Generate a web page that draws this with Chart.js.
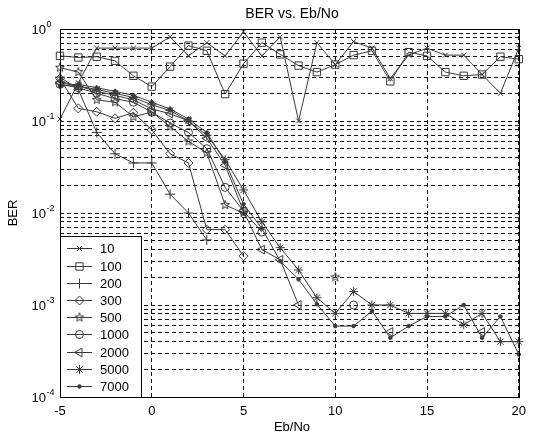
<!DOCTYPE html>
<html><head><meta charset="utf-8">
<script src="https://cdn.jsdelivr.net/npm/chart.js@4.4.1/dist/chart.umd.min.js"></script>
<style>html,body{margin:0;padding:0;background:#fff;} #wrap{width:533px;height:441px;}</style>
</head><body><div id="wrap"><canvas id="c" width="533" height="441"></canvas></div>
<script>
// ---- data ----
const snr = [-5,-4,-3,-2,-1,0,1,2,3,4,5,6,7,8,9,10,11,12,13,14,15,16,17,18,19,20];
const seriesNames = ['10','100','200','300','500','1000','2000','5000','7000'];
const ber10   = [0.105,0.26,0.62,0.62,0.62,0.62,0.82,0.51,0.71,0.51,0.93,0.51,0.82,0.10,0.71,0.41,0.73,0.62,0.29,0.52,0.62,0.52,0.52,0.32,0.20,0.62];
const ber100  = [0.51,0.49,0.50,0.45,0.31,0.236,0.39,0.66,0.58,0.196,0.42,0.71,0.53,0.40,0.34,0.41,0.52,0.58,0.27,0.56,0.51,0.34,0.31,0.32,0.50,0.47];
const ber200  = [0.30,0.22,0.075,0.044,0.035,0.035,0.016,0.010,0.0051,null,null,null,null,null,null,null,null,null,null,null,null,null,null,null,null,null];
const ber300  = [0.29,0.137,0.126,0.107,0.123,0.08,0.044,0.035,0.0066,0.0066,0.0034,null,null,null,null,null,null,null,null,null,null,null,null,null,null,null];
const ber500  = [0.38,0.34,0.17,0.16,0.111,0.125,0.087,0.06,0.045,0.0122,0.010,null,null,null,null,0.002,null,null,null,null,null,null,null,null,null,null];
const ber1000 = [0.25,0.23,0.20,0.175,0.16,0.125,0.095,0.075,0.05,0.019,0.0105,0.0062,null,null,null,null,0.001,null,null,null,null,null,null,null,null,null];
const ber2000 = [0.26,0.24,0.21,0.19,0.17,0.135,0.12,0.10,0.065,0.033,0.0105,0.004,0.0031,0.001,null,null,null,null,0.00051,null,null,null,null,0.00051,null,null];
const ber5000 = [0.27,0.24,0.22,0.20,0.18,0.15,0.13,0.10,0.07,0.038,0.0178,0.008,0.0042,0.0024,0.0012,0.00081,0.0014,0.001,0.001,0.00081,0.00081,0.00081,0.00061,0.00081,0.0004,0.0004];
const ber7000 = [0.24,0.25,0.23,0.21,0.19,0.16,0.135,0.105,0.075,0.036,0.0125,0.0068,0.003,0.0019,0.00102,0.00059,0.00059,0.00086,0.00044,0.00059,0.00075,0.00075,0.001,0.00044,0.00075,0.00029];
const seriesValues = [ber10,ber100,ber200,ber300,ber500,ber1000,ber2000,ber5000,ber7000];
const xTickValues = [-5,0,5,10,15,20];
const yDecades = [1,0.1,0.01,0.001,0.0001];
const yExponents = ['0','-1','-2','-3','-4'];
const yGridValues = [];
for (let e=-4;e<=0;e++){ for (let m=1;m<=9;m++){ const v=m*Math.pow(10,e); if (v<=1.0000001) yGridValues.push(v);} }

// ---- styles ----
const INK = '#3a3a3a';
function pentagram(r){
  const s = Math.ceil(r*2+4);
  const cv = document.createElement('canvas'); cv.width=s; cv.height=s;
  const g = cv.getContext('2d'); g.strokeStyle=INK; g.lineWidth=1;
  g.beginPath();
  for (let i=0;i<10;i++){
    const ang=-Math.PI/2+i*Math.PI/5; const rr=(i%2===0)?r:r*0.42;
    const px=s/2+rr*Math.cos(ang), py=s/2+rr*Math.sin(ang);
    if(i===0) g.moveTo(px,py); else g.lineTo(px,py);
  }
  g.closePath(); g.stroke();
  return cv;
}
const markers = [
  {pointStyle:'crossRot', radius:3.5, rotation:0, fill:'rgba(0,0,0,0)'},
  {pointStyle:'rect', radius:5.2, rotation:0, fill:'rgba(0,0,0,0)'},
  {pointStyle:'cross', radius:5, rotation:0, fill:'rgba(0,0,0,0)'},
  {pointStyle:'rectRot', radius:4.5, rotation:0, fill:'rgba(0,0,0,0)'},
  {pointStyle:pentagram(4.6), radius:4.6, rotation:0, fill:'rgba(0,0,0,0)'},
  {pointStyle:'circle', radius:4, rotation:0, fill:'rgba(0,0,0,0)'},
  {pointStyle:'triangle', radius:5, rotation:-90, fill:'rgba(0,0,0,0)'},
  {pointStyle:'star', radius:4.5, rotation:0, fill:'rgba(0,0,0,0)'},
  {pointStyle:'circle', radius:1.8, rotation:0, fill:INK}
];

const datasets = seriesNames.map((name,k)=>({
  label: name,
  data: snr.map((x,i)=>({x:x, y:seriesValues[k][i]})),
  borderColor: INK, borderWidth: 1, fill:false, tension:0, spanGaps:false,
  pointStyle: markers[k].pointStyle, pointRadius: markers[k].radius,
  pointRotation: markers[k].rotation,
  pointBorderColor: INK, pointBackgroundColor: markers[k].fill, pointBorderWidth: 1,
  clip: false
}));

const FONT = "'Liberation Sans', Arial, Helvetica, sans-serif";
Chart.defaults.font.family = FONT;
Chart.defaults.font.size = 13;
Chart.defaults.color = '#000';

const decor = {
  id:'matlabDecor',
  afterDatasetsDraw(chart){
    const ctx=chart.ctx, a=chart.chartArea, ys=chart.scales.y;
    ctx.save();
    ctx.setLineDash([]);
    // axes box
    ctx.strokeStyle='#000'; ctx.lineWidth=1;
    ctx.strokeRect(Math.round(a.left)+0.5, Math.round(a.top)+0.5, Math.round(a.right)-Math.round(a.left), Math.round(a.bottom)-Math.round(a.top));
    // y tick labels with superscripts
    ctx.fillStyle='#000';
    yDecades.forEach((v,i)=>{
      const y=ys.getPixelForValue(v);
      ctx.font='13px '+FONT; ctx.textAlign='right'; ctx.textBaseline='middle';
      ctx.fillText('10', 46, y+1);
      ctx.font='9px '+FONT; ctx.textAlign='left'; ctx.textBaseline='alphabetic';
      ctx.fillText(yExponents[i], 46.5, y-2.5);
    });
    // title + axis labels
    ctx.font='14px '+FONT; ctx.textAlign='center'; ctx.textBaseline='alphabetic';
    ctx.fillText('BER vs. Eb/No', 292, 18);
    ctx.font='13px '+FONT;
    ctx.fillText('Eb/No', 292, 431);
    ctx.save(); ctx.translate(17, (a.top+a.bottom)/2); ctx.rotate(-Math.PI/2);
    ctx.fillText('BER', 0, 0); ctx.restore();
    // legend
    const lx0=60.5, lx1=141.5, ly0=236.5, ly1=397.5;
    ctx.fillStyle='#fff'; ctx.fillRect(lx0,ly0,lx1-lx0,ly1-ly0);
    ctx.strokeStyle='#000'; ctx.strokeRect(lx0,ly0,lx1-lx0,ly1-ly0);
    seriesNames.forEach((name,k)=>{
      const y=Math.round(248.3+k*17.2)+0.5;
      ctx.strokeStyle=INK; ctx.lineWidth=1;
      ctx.beginPath(); ctx.moveTo(67,y); ctx.lineTo(92,y); ctx.stroke();
      ctx.fillStyle=markers[k].fill; ctx.strokeStyle=INK;
      if (Chart.helpers && Chart.helpers.drawPoint){
        Chart.helpers.drawPoint(ctx,{pointStyle:markers[k].pointStyle, rotation:markers[k].rotation, radius:markers[k].radius, borderWidth:1},79.5,y);
      }
      ctx.fillStyle='#000'; ctx.font='13px '+FONT; ctx.textAlign='left'; ctx.textBaseline='middle';
      ctx.fillText(name, 100, y+0.5);
    });
    ctx.restore();
  }
};

new Chart(document.getElementById('c'), {
  type:'line',
  data:{datasets},
  options:{
    responsive:false, animation:false, events:[],
    layout:{padding:{top:29,right:6,left:0,bottom:0}},
    plugins:{legend:{display:false}, title:{display:false}, tooltip:{enabled:false}},
    scales:{
      x:{type:'linear', min:-5, max:20,
        afterBuildTicks(s){ s.ticks = xTickValues.map(v=>({value:v})); },
        afterFit(s){ s.height=44; },
        ticks:{autoSkip:false, padding:7, maxRotation:0, font:{size:13}, color:'#000'},
        grid:{color:'#111', lineWidth:1, drawTicks:false},
        border:{display:false, dash:[4,3]}
      },
      y:{type:'logarithmic', min:0.0001, max:1,
        afterBuildTicks(s){ s.ticks = yGridValues.map(v=>({value:v})); },
        afterFit(s){ s.width=60; },
        ticks:{display:false},
        grid:{color:'#111', lineWidth:1, drawTicks:false},
        border:{display:false, dash:[4,3]}
      }
    }
  },
  plugins:[decor]
});
</script></body></html>
